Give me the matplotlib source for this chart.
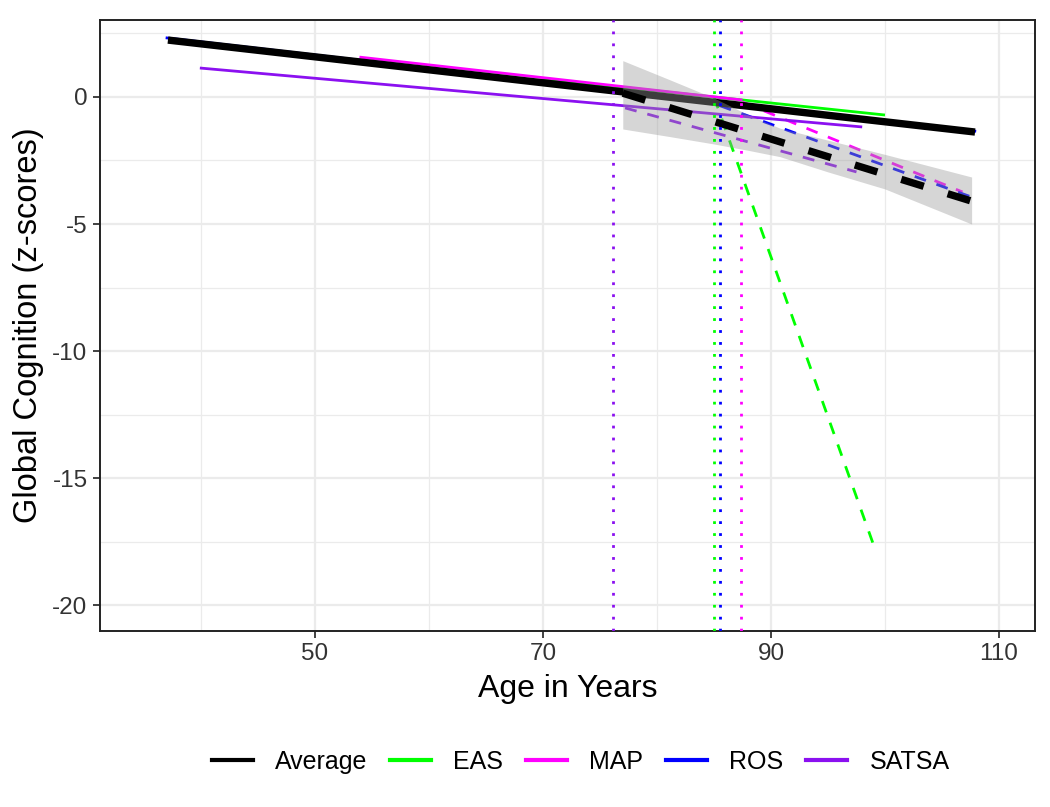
import matplotlib
matplotlib.use("Agg")
import matplotlib.pyplot as plt
from matplotlib.lines import Line2D

plt.rcParams['font.family'] = ['Liberation Sans', 'DejaVu Sans']
plt.rcParams['axes.unicode_minus'] = False

# overall trajectories (solid) and post change point trajectories (dashed)
avg_x = [37.1, 107.9]
avg_y = [2.24, -1.38]
avg_cp_x = [77.0, 107.6]
avg_cp_y = [0.15, -4.10]

ribbon_x = [77, 81, 85, 88, 90.8, 95, 100, 107.6]
ribbon_hi = [1.43, 0.70, -0.04, -0.70, -1.23, -1.70, -2.26, -3.15]
ribbon_lo = [-1.26, -1.55, -1.85, -2.10, -2.35, -2.95, -3.62, -5.00]

eas_x = [70.0, 100.0]
eas_y = [0.71, -0.71]
eas_cp_x = [85.0, 99.1]
eas_cp_y = [0.0, -17.76]

map_x = [53.9, 87.5]
map_y = [1.57, -0.12]
map_cp_x = [87.5, 106.8]
map_cp_y = [-0.20, -3.74]

ros_x = [36.9, 108.0]
ros_y = [2.33, -1.35]
ros_cp_x = [85.5, 107.6]
ros_cp_y = [-0.34, -3.94]

satsa_x = [39.9, 98.0]
satsa_y = [1.14, -1.18]
satsa_cp_x = [77.2, 97.5]
satsa_cp_y = [-0.43, -2.95]

# change points
cp_ages = {'SATSA': 76.1, 'EAS': 85.0, 'ROS': 85.5, 'MAP': 87.4}

studies = ['Average', 'EAS', 'MAP', 'ROS', 'SATSA']
colors = {'Average': 'black', 'EAS': '#00FF00', 'MAP': '#FF00FF',
          'ROS': '#0000FF', 'SATSA': '#8B10F0'}

fig = plt.figure(figsize=(10.5, 8.07), dpi=100)
ax = fig.add_axes([100/1050, 1-631/807, 935/1050, 611/807])

lw = 2.0
dash = (4.3, 4.0)
for name, xs, ys, cx, cy in [('EAS', eas_x, eas_y, eas_cp_x, eas_cp_y),
                             ('MAP', map_x, map_y, map_cp_x, map_cp_y),
                             ('ROS', ros_x, ros_y, ros_cp_x, ros_cp_y),
                             ('SATSA', satsa_x, satsa_y, satsa_cp_x, satsa_cp_y)]:
    ax.plot(xs, ys, color=colors[name], lw=lw, solid_capstyle='butt', zorder=3)
    ax.plot(cx, cy, color=colors[name], lw=lw, dashes=dash,
            dash_capstyle='butt', zorder=3)

ax.plot(avg_x, avg_y, color='black', lw=5.3, solid_capstyle='butt', zorder=4)
ax.fill_between(ribbon_x, ribbon_lo, ribbon_hi, color='#999999', alpha=0.4,
                lw=0, zorder=5)
ax.plot(avg_cp_x, avg_cp_y, color='black', lw=5.3, dashes=(3.2, 3.4),
        dash_capstyle='butt', zorder=6)

for name, age in cp_ages.items():
    ax.axvline(age, color=colors[name], lw=2, dashes=(1, 3.3),
               dash_capstyle='butt', zorder=7)

ax.set_xlim(31.14, 113.16)
ax.set_ylim(-21.02, 3.03)
ax.set_xticks([50, 70, 90, 110])
ax.set_xticks([40, 60, 80, 100], minor=True)
ax.set_yticks([0, -5, -10, -15, -20])
ax.set_yticks([2.5, -2.5, -7.5, -12.5, -17.5], minor=True)
ax.grid(which='major', color='#EBEBEB', lw=1.6, zorder=0)
ax.grid(which='minor', color='#EBEBEB', lw=0.9, zorder=0)
ax.set_axisbelow(True)
ax.tick_params(which='major', length=5, width=1.3, color='#333333',
               labelsize=17.5, labelcolor='#333333', pad=4)
ax.tick_params(which='minor', length=0)
for sp in ax.spines.values():
    sp.set_linewidth(1.4)
    sp.set_color('#222222')

ax.set_xlabel('Age in Years', fontsize=23, labelpad=6)
ax.set_ylabel('Global Cognition (z-scores)', fontsize=23.5, labelpad=6)

handles = [Line2D([0], [0], color=colors[s], lw=3) for s in studies]
fig.legend(handles, studies, loc='center', bbox_to_anchor=(0.553, 0.056),
           ncol=5, frameon=False, fontsize=18, handlelength=1.64,
           handletextpad=0.88, columnspacing=0.92)

fig.savefig('out.png', dpi=100)
